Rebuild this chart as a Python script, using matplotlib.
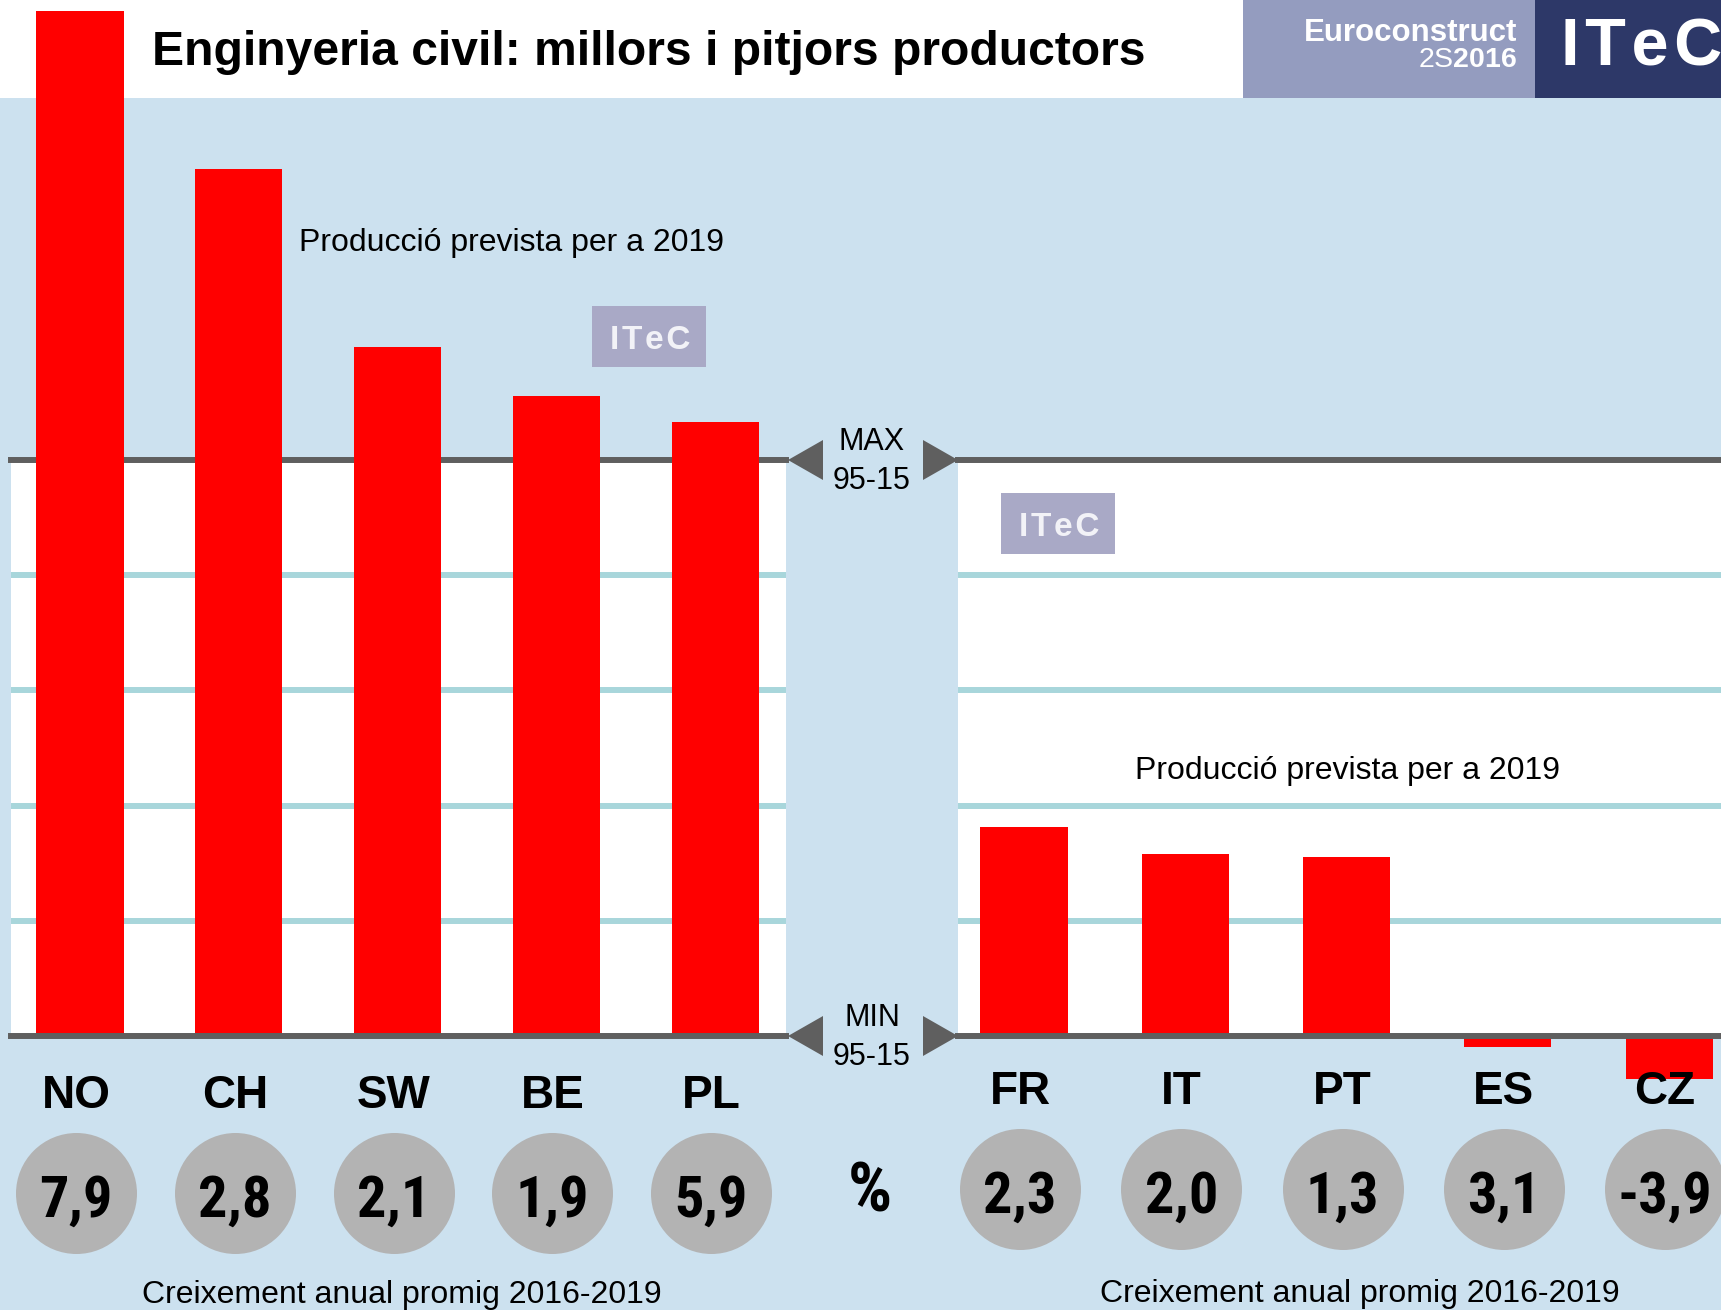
import matplotlib
matplotlib.use('Agg')
import matplotlib.pyplot as plt
from matplotlib.patches import Rectangle, Polygon
from matplotlib.transforms import blended_transform_factory

plt.rcParams['font.family'] = ['Liberation Sans', 'DejaVu Sans']
plt.rcParams['mathtext.fontset'] = 'custom'
plt.rcParams['mathtext.rm'] = 'Liberation Sans'
plt.rcParams['mathtext.bf'] = 'Liberation Sans:bold'

# data (index: 100 = max 1995-2015, 0 = min 1995-2015)
best = ['NO', 'CH', 'SW', 'BE', 'PL']
best_2019 = [178.0, 150.5, 119.6, 111.1, 106.6]
best_growth = ['7,9', '2,8', '2,1', '1,9', '5,9']

worst = ['FR', 'IT', 'PT', 'ES', 'CZ']
worst_2019 = [36.3, 31.6, 31.1, -1.9, -7.4]
worst_growth = ['2,3', '2,0', '1,3', '3,1', '-3,9']

grid_levels = [20, 40, 60, 80]

BG = '#cce1ef'
RED = '#ff0000'
GRID = '#a8d6db'
DARK = '#5f5f5f'
CIRCLE = '#b3b3b3'
NARROW = ['Liberation Sans Narrow', 'Roboto Condensed', 'Noto Sans Condensed',
          'Open Sans Condensed', 'Liberation Sans']
HAIR = '\u200a'

W, H = 1721, 1310
fig = plt.figure(figsize=(W / 100, H / 100), dpi=100, facecolor=BG)


def fx(x):
    return x / W


def fy(y):
    return 1 - y / H


# header
fig.patches.append(Rectangle((0, fy(98)), 1, 98 / H, transform=fig.transFigure,
                             facecolor='white', edgecolor='none', zorder=-5))
fig.patches.append(Rectangle((fx(1243), fy(98)), (1535 - 1243) / W, 98 / H, transform=fig.transFigure,
                             facecolor='#949cbf', edgecolor='none', zorder=-5))
fig.patches.append(Rectangle((fx(1535), fy(98)), (W - 1535) / W, 98 / H, transform=fig.transFigure,
                             facecolor='#2d3868', edgecolor='none', zorder=-5))
fig.text(fx(152), fy(65), 'Enginyeria civil: millors i pitjors productors', fontsize=34.6,
         fontweight='bold', va='baseline', ha='left')
fig.text(fx(1517), fy(41), 'Euroconstruct', fontsize=22.5, fontweight='bold', color='white',
         va='baseline', ha='right')
fig.text(fx(1517), fy(67), r'2S$\mathbf{2016}$', fontsize=20.5, color='white',
         va='baseline', ha='right')
fig.text(fx(1561), fy(65), HAIR.join('ITeC'), fontsize=48, fontweight='bold', color='white',
         va='baseline', ha='left')

# itec watermarks
for (x0, y0) in [(592, 306), (1001, 493)]:
    fig.patches.append(Rectangle((fx(x0), fy(y0 + 61)), 114 / W, 61 / H, transform=fig.transFigure,
                                 facecolor='#a9a9c6', edgecolor='none', zorder=0.5))
    fig.text(fx(x0 + 58), fy(y0 + 43), HAIR.join('ITeC'), fontsize=24, fontweight='bold',
             color='#f2f2f7', va='baseline', ha='center', zorder=3)


def panel(x0, x1, first_center, step, names, values, growth, lab_y, num_y, circ_y):
    ax = fig.add_axes([fx(x0), fy(1036), (x1 - x0) / W, (1036 - 460) / H])
    ax.set_facecolor('white')
    xmin = -(first_center - x0) / step
    ax.set_xlim(xmin, xmin + (x1 - x0) / step)
    ax.set_ylim(0, 100)
    ax.set_xticks([])
    ax.set_yticks([])
    for s in ax.spines.values():
        s.set_visible(False)
    for g in grid_levels:
        ax.axhline(g, color=GRID, lw=4.3, zorder=1)
    ax.axhline(100, color=DARK, lw=4.3, zorder=1, clip_on=False)
    xs = list(range(len(names)))
    ax.bar(xs, values, width=87 / step, color=RED, zorder=3, clip_on=False)
    ax.axhline(0, color=DARK, lw=4.3, zorder=5, clip_on=False)
    tr = blended_transform_factory(ax.transData, fig.transFigure)
    shift = 4 / step
    ax.scatter([x - shift for x in xs], [fy(circ_y)] * len(xs), s=7590, color=CIRCLE,
               linewidths=0, transform=tr, clip_on=False, zorder=6)
    for x, n, g in zip(xs, names, growth):
        ax.text(x - shift, fy(lab_y), n, transform=tr, fontsize=33, fontweight='bold',
                ha='center', va='baseline', zorder=7)
        ax.text(x - shift, fy(num_y), g, transform=tr, fontsize=42, fontweight='bold',
                family=NARROW, fontstretch='condensed', ha='center', va='baseline', zorder=7)
    return ax


panel(11, 786, 80, 158.75, best, best_2019, best_growth, 1108, 1217, 1193)
panel(958, W, 1024, 161.25, worst, worst_2019, worst_growth, 1104, 1213, 1189)

# annotations
fig.text(fx(299), fy(251), 'Producció prevista per a 2019', fontsize=23, va='baseline', ha='left')
fig.text(fx(1135), fy(779), 'Producció prevista per a 2019', fontsize=23, va='baseline', ha='left')
fig.text(fx(402), fy(1303), 'Creixement anual promig 2016-2019', fontsize=23, va='baseline', ha='center')
fig.text(fx(1360), fy(1302), 'Creixement anual promig 2016-2019', fontsize=23, va='baseline', ha='center')
fig.text(fx(870), fy(1211), '%', fontsize=50, fontweight='bold', family=NARROW,
         fontstretch='condensed', va='baseline', ha='center')

# max / min markers
for yline, top, bottom in [(460, 'MAX', '95-15'), (1036, 'MIN', '95-15')]:
    fig.patches.append(Polygon([(fx(788), fy(yline)), (fx(823), fy(yline - 20)), (fx(823), fy(yline + 20))],
                               closed=True, transform=fig.transFigure, facecolor=DARK, edgecolor='none'))
    fig.patches.append(Polygon([(fx(958), fy(yline)), (fx(923), fy(yline - 20)), (fx(923), fy(yline + 20))],
                               closed=True, transform=fig.transFigure, facecolor=DARK, edgecolor='none'))
    fig.text(fx(872), fy(yline - 10), top, fontsize=22, va='baseline', ha='center')
    fig.text(fx(872), fy(yline + 29), bottom, fontsize=22, va='baseline', ha='center')

fig.savefig('out.png', dpi=100, facecolor=BG)
